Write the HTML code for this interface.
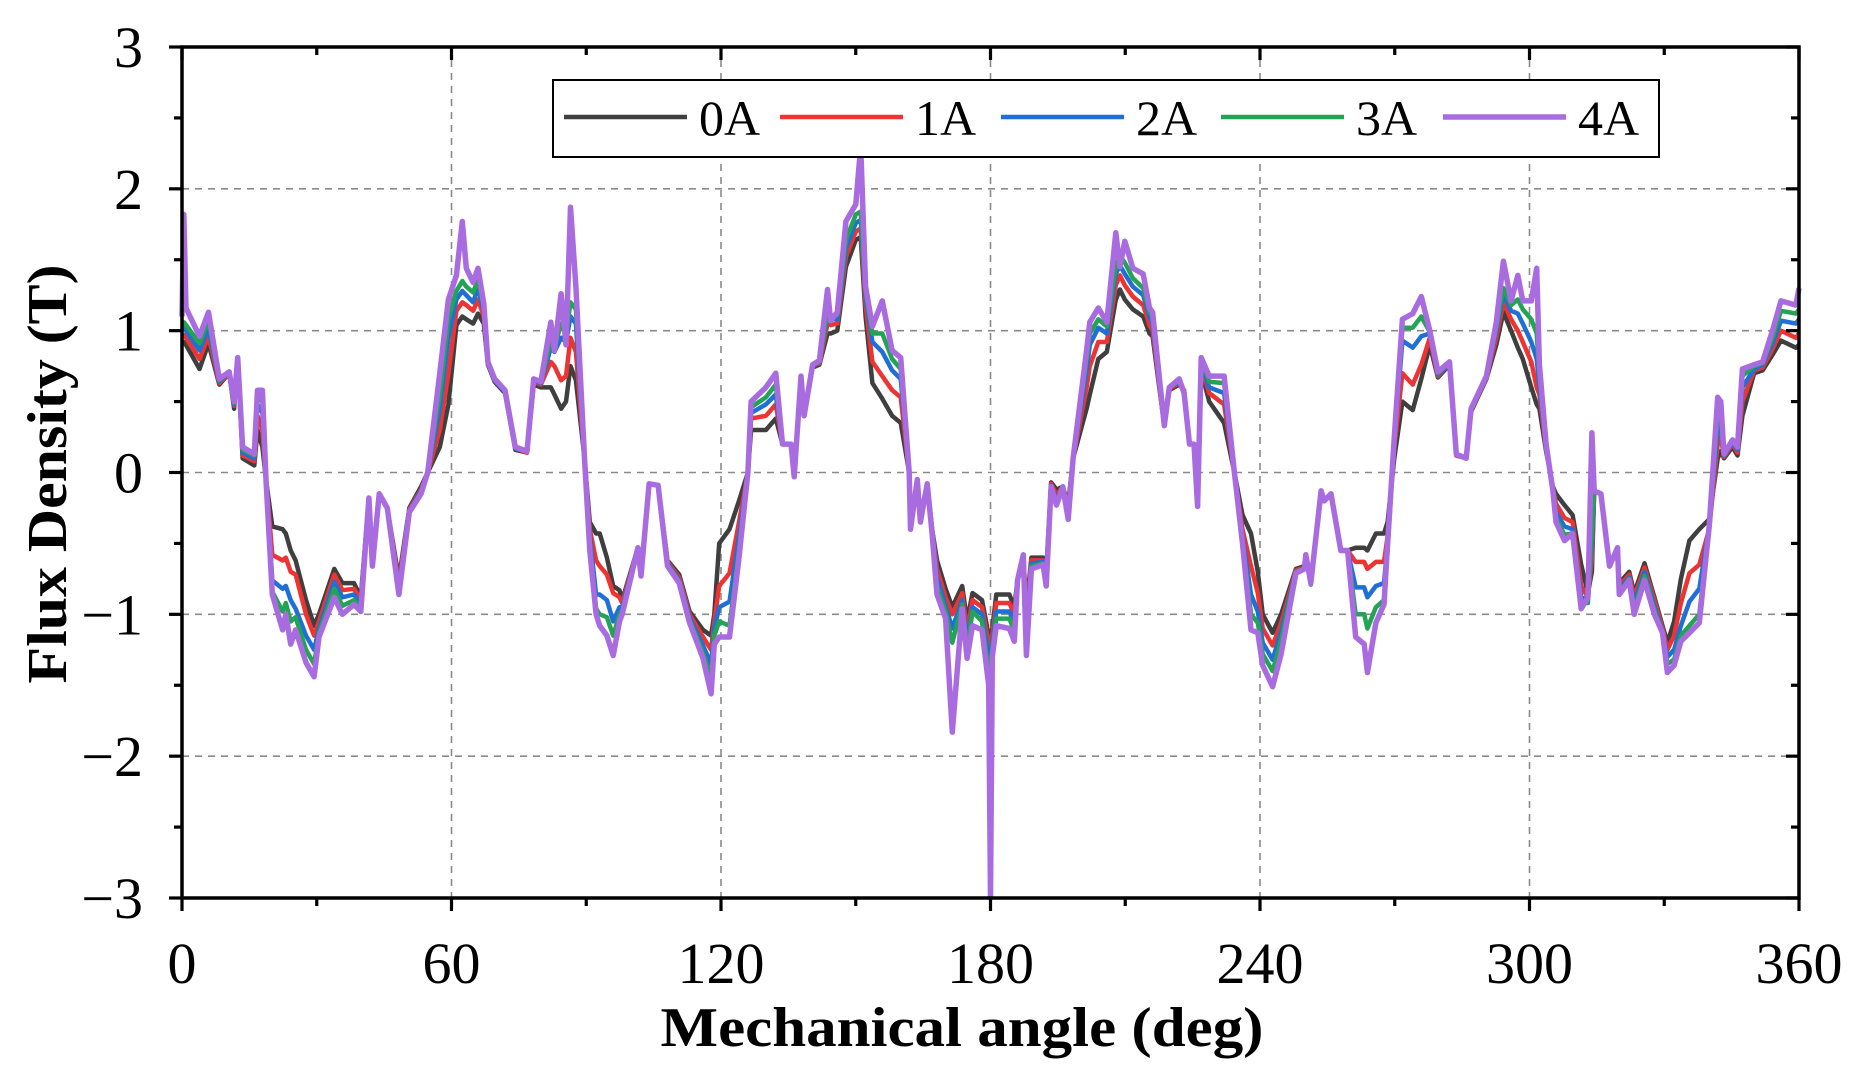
<!DOCTYPE html>
<html><head><meta charset="utf-8"><style>
html,body{margin:0;padding:0;background:#fff;}
svg{display:block;}
</style></head><body>
<svg id="chart" width="1872" height="1080" xmlns="http://www.w3.org/2000/svg" font-family="'Liberation Serif', serif">
<rect width="1872" height="1080" fill="#fff"/>
<g id="grid"></g>
<g id="series"></g>
<g id="axes"></g>
<g id="legend"></g>
<text x="962" y="1046" font-size="56" font-weight="bold" text-anchor="middle" textLength="603" lengthAdjust="spacingAndGlyphs">Mechanical angle (deg)</text>
<text transform="translate(66,474) rotate(-90)" font-size="56" font-weight="bold" text-anchor="middle" textLength="419" lengthAdjust="spacingAndGlyphs">Flux Density (T)</text>
</svg>
<script>
const angles = [0,0.4,0.9,3.9,5.9,8.3,10.5,11.6,12.4,13.5,16.1,16.8,17.9,18.7,20.1,22.4,23.1,24.2,25.3,27.6,29.4,30.5,33.9,35.7,38.3,39.8,41.6,42.4,43.9,45.7,48.3,50.6,53.2,54.7,57.4,59.3,61.1,62.4,63.3,64.8,65.9,67.2,68.1,69.6,71.9,74.2,76.8,78.3,79.9,82.1,82.9,84.4,85.5,86.5,87.7,89.6,90.8,92.2,93.0,94.6,96.0,97.4,98.0,101.5,102.2,104.0,106.0,108.1,110.7,113.0,116.0,117.8,118.5,119.6,121.9,124.0,126.0,126.7,130.0,132.2,133.7,135.6,136.3,137.8,138.5,140.4,141.9,143.7,144.4,145.9,147.8,150.0,151.1,152.2,153.7,155.9,158.1,160.0,161.9,162.2,163.7,164.4,165.9,167.0,168.1,170.0,171.5,173.7,174.8,176.0,178.1,179.6,180.0,180.4,181.3,184.2,185.3,186.0,187.3,188.0,189.1,191.7,192.4,193.5,194.7,196.1,197.3,198.4,201.4,202.1,204.0,205.9,207.9,208.8,209.9,211.7,214.0,215.4,216.1,218.7,219.8,222.0,223.1,224.3,225.3,226.1,226.9,228.7,232.0,234.3,236.1,238.0,239.5,240.6,242.8,244.7,248.0,249.9,250.2,251.3,253.6,254.3,255.8,258.0,259.5,261.3,263.2,263.9,265.8,267.6,268.4,269.9,271.7,274.0,275.9,277.8,279.6,282.2,283.7,285.9,287.0,290.4,292.6,294.2,295.9,297.4,298.5,300.4,301.6,302.2,303.7,305.2,305.9,307.8,309.6,311.5,313.0,313.9,314.4,315.9,317.8,319.6,320.0,322.2,323.3,325.6,327.8,329.6,330.7,332.2,333.7,335.6,337.8,340.0,341.9,342.6,343.3,345.2,346.3,347.4,350.0,351.9,354.1,356.0,359.3,360];
const flux0A = [.92,.92,.90,.73,.91,.62,.70,.45,.80,.10,.05,.30,.18,-.05,-.38,-.40,-.43,-.55,-.62,-.90,-1.08,-1.00,-.68,-.78,-.78,-.88,-.18,-.60,-.15,-.25,-.75,-.25,-.10,0,.18,.48,1.04,1.10,1.08,1.05,1.12,1.05,.76,.64,.56,.16,.14,.62,.60,.60,.55,.45,.50,.75,.65,.10,-.35,-.43,-.43,-.60,-.80,-.83,-.90,-.53,-.73,-.08,-.09,-.62,-.72,-.98,-1.11,-1.15,-1.0,-.50,-.40,-.20,0,.30,.30,.38,.20,.20,-.03,.68,.40,.74,.76,.98,.98,1.0,1.45,1.64,1.66,1.10,.63,.52,.40,.35,0,-.40,-.05,-.35,-.08,-.40,-.62,-.82,-.95,-.80,-1.05,-.85,-.90,-1.15,-1.2,-1.1,-.86,-.86,-.95,-.76,-.60,-.95,-.60,-.60,-.70,-.07,-.12,-.10,-.22,.10,.45,.55,.80,.85,1.22,1.29,1.22,1.15,1.10,.98,.96,.33,.58,.62,.58,.20,.20,-.24,.72,.50,.35,0,-.30,-.43,-.70,-1.0,-1.13,-1.0,-.68,-.66,-.58,-.78,-.13,-.20,-.15,-.55,-.55,-.53,-.53,-.55,-.43,-.43,-.35,.10,.50,.44,.66,.90,.67,.76,.12,.10,.43,.66,.90,1.13,1.0,.88,.80,.60,.48,.45,.15,-.10,-.15,-.23,-.30,-.65,-.85,-.70,-.13,-.15,-.66,-.53,-.78,-.70,-.85,-.64,-.88,-1.08,-1.20,-1.05,-.75,-.48,-.40,-.33,.10,.15,.10,.18,.12,.40,.70,.72,.83,.93,.88,.90];
const flux1A = [.97,.97,.95,.80,.96,.63,.70,.47,.80,.12,.08,.40,.30,-.05,-.58,-.62,-.60,-.70,-.72,-1.0,-1.15,-1.05,-.72,-.83,-.82,-.90,-.18,-.62,-.15,-.25,-.78,-.26,-.12,0,.30,.70,1.14,1.20,1.18,1.14,1.22,1.10,.77,.65,.57,.17,.14,.64,.62,.78,.75,.65,.68,.95,.85,.10,-.40,-.62,-.66,-.72,-.85,-.88,-.92,-.53,-.73,-.08,-.09,-.63,-.74,-1.0,-1.16,-1.25,-1.05,-.80,-.71,-.35,0,.38,.40,.48,.20,.20,-.03,.68,.40,.75,.77,1.05,1.04,1.05,1.52,1.70,1.72,1.18,.78,.68,.58,.53,0,-.40,-.05,-.35,-.08,-.40,-.68,-.88,-1.0,-.85,-1.12,-.90,-.95,-1.2,-1.25,-1.15,-.92,-.92,-1.0,-.76,-.60,-1.0,-.62,-.62,-.74,-.08,-.16,-.10,-.25,.10,.60,.75,.92,.92,1.32,1.39,1.32,1.24,1.18,1.04,1.0,.33,.59,.63,.58,.20,.20,-.24,.75,.56,.48,0,-.40,-.66,-.85,-1.1,-1.22,-1.06,-.69,-.67,-.58,-.78,-.13,-.20,-.15,-.55,-.55,-.63,-.63,-.68,-.63,-.63,-.45,.18,.70,.62,.76,.95,.68,.77,.12,.10,.44,.67,.95,1.20,1.08,1.0,.92,.78,.60,.55,.17,-.11,-.22,-.32,-.35,-.80,-.88,-.60,-.13,-.15,-.66,-.53,-.80,-.72,-.88,-.67,-.90,-1.10,-1.25,-1.15,-.92,-.71,-.65,-.40,.20,.25,.11,.20,.14,.50,.72,.74,.87,1.0,.95,.98];
const flux2A = [1.02,1.02,1.00,.86,1.02,.64,.71,.48,.81,.14,.10,.48,.42,-.05,-.76,-.82,-.80,-.90,-.96,-1.15,-1.25,-1.10,-.77,-.88,-.86,-.93,-.18,-.64,-.15,-.25,-.81,-.27,-.13,0,.45,.95,1.22,1.28,1.25,1.20,1.30,1.14,.77,.65,.57,.17,.15,.65,.63,.88,.85,.95,.92,1.10,1.05,.10,-.45,-.86,-.86,-.90,-1.05,-.95,-.95,-.53,-.73,-.08,-.09,-.64,-.76,-1.02,-1.22,-1.35,-1.1,-.95,-.91,-.45,0,.42,.48,.55,.20,.20,-.03,.68,.40,.75,.78,1.10,1.08,1.08,1.58,1.76,1.78,1.24,.92,.85,.72,.66,0,-.40,-.05,-.35,-.08,-.40,-.74,-.94,-1.1,-.90,-1.2,-.95,-1.0,-1.3,-1.3,-1.2,-.98,-.98,-1.07,-.76,-.60,-1.1,-.64,-.63,-.76,-.09,-.20,-.10,-.28,.10,.72,.90,1.02,.98,1.40,1.46,1.40,1.31,1.25,1.10,1.05,.33,.60,.64,.56,.20,.20,-.24,.78,.60,.56,0,-.45,-.86,-.98,-1.2,-1.32,-1.12,-.70,-.68,-.58,-.79,-.13,-.20,-.15,-.55,-.55,-.81,-.81,-.88,-.80,-.78,-.50,.22,.93,.88,.96,.98,.69,.77,.13,.10,.45,.67,1.0,1.26,1.14,1.12,1.05,.92,.80,.62,.18,-.12,-.28,-.38,-.40,-.88,-.90,-.50,-.13,-.15,-.66,-.53,-.82,-.74,-.92,-.70,-.94,-1.12,-1.30,-1.25,-1.08,-.91,-.82,-.38,.30,.35,.12,.21,.16,.60,.73,.76,.91,1.07,1.05,1.08];
const flux3A = [1.06,1.06,1.04,.91,1.07,.65,.71,.49,.81,.16,.12,.53,.50,-.05,-.84,-.98,-.92,-1.05,-1.02,-1.25,-1.35,-1.13,-.82,-.94,-.90,-.95,-.18,-.65,-.15,-.25,-.84,-.28,-.14,0,.55,1.08,1.28,1.35,1.31,1.27,1.36,1.17,.78,.66,.58,.18,.15,.66,.64,.94,.88,1.05,.98,1.20,1.15,.10,-.50,-.96,-1.0,-1.02,-1.15,-1.0,-.98,-.53,-.73,-.08,-.09,-.65,-.77,-1.04,-1.27,-1.45,-1.15,-1.05,-1.08,-.55,0,.46,.53,.62,.20,.20,-.03,.68,.40,.76,.78,1.14,1.10,1.11,1.64,1.82,1.84,1.28,.98,.98,.80,.73,0,-.40,-.05,-.35,-.08,-.42,-.80,-.98,-1.2,-.93,-1.25,-.98,-1.05,-1.4,-1.35,-1.25,-1.03,-1.03,-1.12,-.76,-.60,-1.2,-.66,-.64,-.78,-.10,-.22,-.10,-.30,.10,.80,.98,1.08,1.03,1.46,1.53,1.48,1.37,1.30,1.13,1.10,.33,.60,.65,.56,.20,.20,-.24,.80,.64,.63,0,-.48,-1.0,-1.06,-1.28,-1.40,-1.18,-.70,-.68,-.58,-.79,-.13,-.20,-.15,-.55,-.55,-1.0,-1.0,-1.1,-.95,-.90,-.55,.24,1.02,1.02,1.10,.99,.70,.78,.13,.10,.45,.68,1.03,1.30,1.18,1.22,1.15,1.08,.98,.70,.19,-.13,-.32,-.44,-.43,-.92,-.92,-.40,-.13,-.15,-.66,-.53,-.84,-.75,-.96,-.73,-.97,-1.13,-1.35,-1.32,-1.15,-1.08,-1.0,-.38,.40,.45,.13,.22,.18,.68,.75,.77,.95,1.14,1.12,1.15];
const flux4A = [1.10,1.82,1.16,.96,1.13,.66,.71,.50,.81,.18,.13,.58,.58,-.05,-.86,-1.11,-1.00,-1.21,-1.11,-1.34,-1.44,-1.16,-.88,-1.00,-.93,-.98,-.18,-.66,-.15,-.25,-.86,-.28,-.15,0,.70,1.22,1.39,1.77,1.44,1.34,1.44,1.19,.78,.66,.58,.18,.15,.66,.64,1.06,.86,1.26,.90,1.87,1.31,.10,-.55,-1.00,-1.08,-1.15,-1.29,-1.05,-1.00,-.53,-.73,-.08,-.09,-.66,-.78,-1.06,-1.31,-1.56,-1.21,-1.16,-1.16,-.60,0,.50,.60,.70,.20,.20,-.03,.68,.40,.76,.79,1.29,1.07,1.13,1.77,1.89,2.30,1.31,1.03,1.21,.86,.81,0,-.40,-.05,-.35,-.08,-.43,-.86,-1.03,-1.83,-.96,-1.31,-1.08,-1.11,-1.5,-3.0,-1.3,-1.08,-1.10,-1.19,-.76,-.58,-1.29,-.68,-.65,-.80,-.10,-.23,-.10,-.33,.10,.86,1.06,1.16,1.06,1.69,1.45,1.63,1.44,1.40,1.16,1.13,.33,.60,.66,.56,.20,.20,-.24,.81,.68,.68,0,-.50,-1.11,-1.13,-1.36,-1.51,-1.28,-.71,-.68,-.58,-.78,-.13,-.20,-.15,-.55,-.55,-1.16,-1.21,-1.41,-1.06,-.93,-.50,.25,1.08,1.12,1.24,1.0,.71,.78,.13,.10,.45,.68,1.06,1.49,1.21,1.39,1.21,1.21,1.44,.76,.20,-.13,-.35,-.48,-.43,-.96,-.88,.28,-.13,-.15,-.66,-.53,-.86,-.76,-1.0,-.76,-1.0,-1.13,-1.41,-1.36,-1.19,-1.13,-1.06,-.38,.53,.50,.13,.23,.18,.73,.76,.78,1.0,1.21,1.18,1.30];
const seriesNames = ["0A","1A","2A","3A","4A"];
const xTicks = [0,60,120,180,240,300,360];
const yTicks = [-3,-2,-1,0,1,2,3];

const NS = "http://www.w3.org/2000/svg";
const L = 182, R = 1799, T = 47, B = 898;
const xMin = 0, xMax = 360, yMin = -3, yMax = 3;
function xs(v){ return L + (v - xMin) / (xMax - xMin) * (R - L); }
function ys(v){ return B - (v - yMin) / (yMax - yMin) * (B - T); }
function mk(tag, attrs, parent){
  const e = document.createElementNS(NS, tag);
  for (const k in attrs) e.setAttribute(k, attrs[k]);
  parent.appendChild(e);
  return e;
}
const gGrid = document.getElementById('grid');
const gSeries = document.getElementById('series');
const gAxes = document.getElementById('axes');
const gLegend = document.getElementById('legend');

xTicks.forEach(v => {
  if (v === xMin || v === xMax) return;
  const l = mk('line', {x1: xs(v), x2: xs(v), y1: T, y2: B, stroke: '#8a8a8a', 'stroke-width': 1.6, 'stroke-dasharray': '7 6'}, gGrid);
  
  
});
yTicks.forEach(v => {
  if (v === yMin || v === yMax) return;
  const l = mk('line', {x1: L, x2: R, y1: ys(v), y2: ys(v), stroke: '#8a8a8a', 'stroke-width': 1.6, 'stroke-dasharray': '7 6'}, gGrid);
  
  
});

const seriesData = [flux0A, flux1A, flux2A, flux3A, flux4A];
const colors = ['#3f3f3f', '#ee3333', '#1f6fd6', '#23a455', '#a96ce0'];
const widths = [4.5, 4.5, 4.5, 4.5, 5.5];
seriesData.forEach((vals, si) => {
  const n = Math.min(vals.length, angles.length);
  let d = '';
  for (let i = 0; i < n; i++) d += (i ? 'L' : 'M') + xs(angles[i]).toFixed(1) + ',' + ys(vals[i]).toFixed(1);
  const p = mk('path', {d: d, fill: 'none', stroke: colors[si], 'stroke-width': widths[si], 'stroke-linejoin': 'round'}, gSeries);
  
  
});

const frame = mk('rect', {x: L, y: T, width: R - L, height: B - T, fill: 'none', stroke: '#000', 'stroke-width': 3.5}, gAxes);



for (let v = xMin; v <= xMax; v += 30) {
  const major = xTicks.includes(v);
  const len = major ? 13 : 8;
  mk('line', {x1: xs(v), x2: xs(v), y1: B, y2: B + len, stroke: '#000', 'stroke-width': 3.2}, gAxes);
  mk('line', {x1: xs(v), x2: xs(v), y1: T, y2: T + len, stroke: '#000', 'stroke-width': 3.2}, gAxes);
}
xTicks.forEach(v => {
  const t = mk('text', {x: xs(v), y: 983, 'font-size': 58, 'text-anchor': 'middle'}, gAxes);
  t.textContent = v;
  
  
});
for (let v = yMin; v <= yMax + 0.001; v += 0.5) {
  const major = Math.abs(v - Math.round(v)) < 1e-6;
  const len = major ? 13 : 8;
  mk('line', {x1: L - len, x2: L, y1: ys(v), y2: ys(v), stroke: '#000', 'stroke-width': 3.2}, gAxes);
  mk('line', {x1: R - len, x2: R, y1: ys(v), y2: ys(v), stroke: '#000', 'stroke-width': 3.2}, gAxes);
}
yTicks.forEach(v => {
  const t = mk('text', {x: 143, y: ys(v) + 20, 'font-size': 58, 'text-anchor': 'end'}, gAxes);
  t.textContent = v < 0 ? '\u2212' + Math.abs(v) : String(v);
  
  
});

const box = mk('rect', {x: 553, y: 80, width: 1106, height: 77, fill: '#fff', stroke: '#000', 'stroke-width': 2}, gLegend);


const legX = [564, 780, 1001, 1221, 1443];
seriesNames.forEach((nm, i) => {
  const g = mk('g', {}, gLegend);
  
  
  mk('line', {x1: legX[i], x2: legX[i] + 123, y1: 117, y2: 117, stroke: colors[i], 'stroke-width': widths[i]}, g);
  const t = mk('text', {x: legX[i] + 135, y: 135, 'font-size': 50}, g);
  t.textContent = nm;
});
</script>
</body></html>
